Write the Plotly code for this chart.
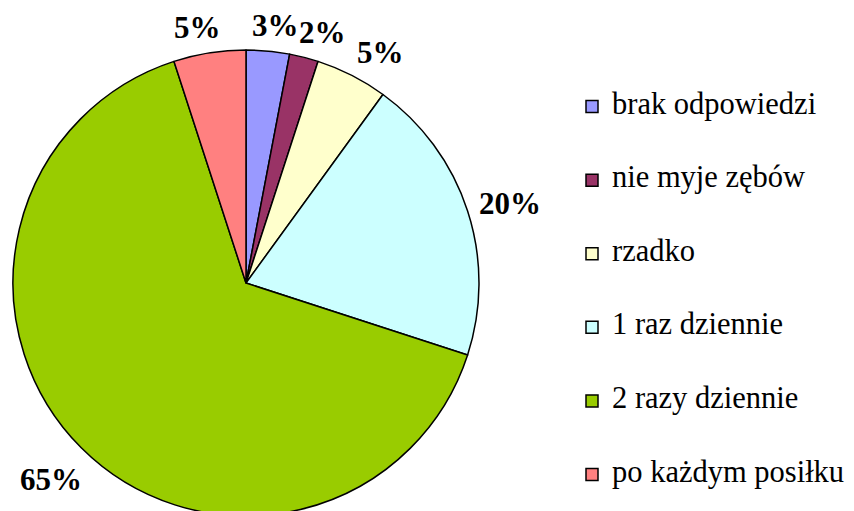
import math
import plotly.graph_objects as go

categories = ["brak odpowiedzi", "nie myje zębów", "rzadko",
              "1 raz dziennie", "2 razy dziennie", "po każdym posiłku"]
values = [3, 2, 5, 20, 65, 5]
colors = ["#9999FF", "#993366", "#FFFFCC", "#CCFFFF", "#99CC00", "#FF8080"]
pct_labels = [f"{v}%" for v in values]

# the page places the figure 8px from the window's top-left corner
OFF = 8
W, H = 880, 515
FONT = "Liberation Serif"
TXT_F = 31
LEG_TXT_F = 30.5
LEG_F = 18.1

# pie geometry in figure pixels (window centre ~ (246, 283), radius ~233)
PIE_CX, PIE_CY, PIE_R = 246 - OFF, 283 - OFF, 233
dom_x = [(PIE_CX - PIE_R - 5) / W, (PIE_CX + PIE_R + 5) / W]
dom_y = [1 - (PIE_CY + PIE_R) / H, 1 - (PIE_CY - PIE_R) / H]
cx = (dom_x[0] + dom_x[1]) / 2 * W
cy = H - (dom_y[0] + dom_y[1]) / 2 * H
R = min((dom_x[1] - dom_x[0]) * W, (dom_y[1] - dom_y[0]) * H) / 2

legend_labels = [f"<br><span style='font-size:{LEG_TXT_F}px'>{c}</span><br>" for c in categories]

fig = go.Figure(go.Pie(
    labels=legend_labels,
    values=values,
    sort=False,
    direction="clockwise",
    rotation=0,
    textinfo="none",
    marker=dict(colors=colors, line=dict(color="black", width=1.5)),
    customdata=categories,
    hovertemplate="%{customdata}: %{value}%<extra></extra>",
    domain=dict(x=dom_x, y=dom_y),
))

# percentage labels: anchored just outside the arc at each slice's mid-angle,
# with the label box pushed outward (spreadsheet-style placement)
annotations = []
total = sum(values)
cum = 0
GAP = 13
for v, lbl in zip(values, pct_labels):
    mid = (cum + v / 2) / total * 2 * math.pi
    cum += v
    s, c = math.sin(mid), math.cos(mid)
    half_w = 0.5 * 30 * (0.5 * (len(lbl) - 1) + 1.0)
    half_h = 10.5
    ax = cx + (R + GAP) * s
    ay = cy - (R + GAP) * c
    if c >= 0:
        ox = half_w * max(-1.0, min(1.0, 2.8 * s))
        oy = -1.2 * half_h * c
    else:
        ox = 0.7 * half_w * max(-1.0, min(1.0, 2.8 * s))
        oy = -3.0 * half_h * c
    px = ax + ox
    py = ay + oy
    annotations.append(dict(
        x=px / W, y=1 - py / H, xref="paper", yref="paper",
        text=f"<b>{lbl}</b>", showarrow=False,
        xanchor="center", yanchor="middle",
        font=dict(family=FONT, size=TXT_F, color="black"),
    ))

fig.update_layout(
    width=W, height=H,
    margin=dict(l=0, r=0, t=0, b=0),
    paper_bgcolor="white", plot_bgcolor="white",
    font=dict(family=FONT, color="black"),
    showlegend=True,
    legend=dict(
        x=(572 - OFF) / W, xanchor="left",
        y=1 - (286.75 - OFF + 4) / H, yanchor="middle",
        font=dict(family=FONT, size=LEG_F, color="black"),
        bgcolor="rgba(0,0,0,0)",
        traceorder="normal",
    ),
    annotations=annotations,
)

fig.write_html("out.html")
